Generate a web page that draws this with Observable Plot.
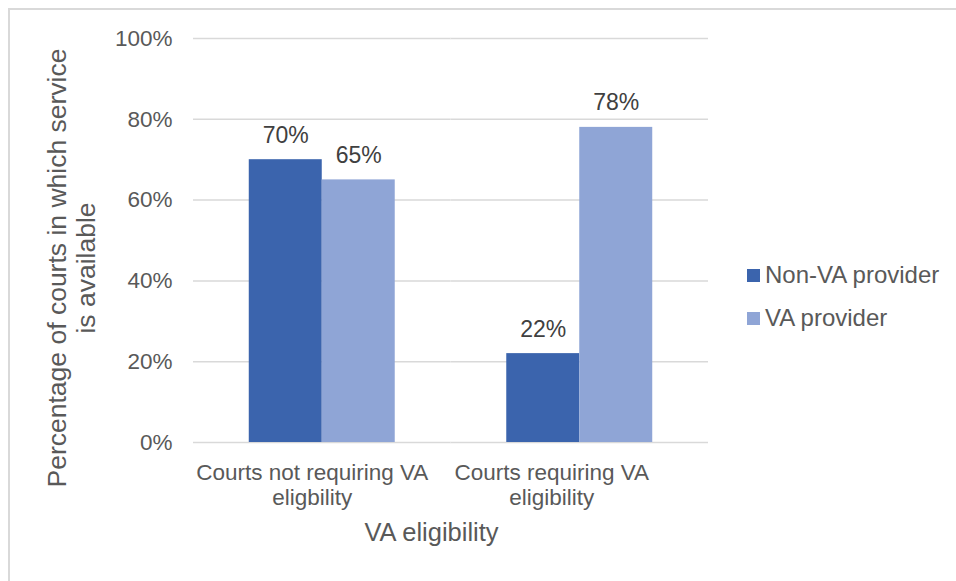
<!DOCTYPE html>
<html>
<head>
<meta charset="utf-8">
<script src="https://cdn.jsdelivr.net/npm/d3@7"></script>
<script src="https://cdn.jsdelivr.net/npm/@observablehq/plot@0.6"></script>
<style>
  html, body { margin: 0; padding: 0; background: #fff; }
  #wrap { position: relative; width: 956px; height: 581px; overflow: hidden; font-family: "Liberation Sans", Arial, sans-serif; color: #595959; }
  #frame { position: absolute; left: 8px; top: 8px; right: -10px; bottom: -10px; border-left: 2px solid #d9d9d9; border-top: 2px solid #d9d9d9; }
  #chart { position: absolute; left: 0; top: 0; }
  .ytitle { position: absolute; width: 520px; text-align: center; font-size: 26.5px; line-height: 29px; white-space: pre; transform-origin: center center; }
  .xtitle { position: absolute; width: 300px; text-align: center; font-size: 25.5px; line-height: 25px; }
  .leg { position: absolute; font-size: 24px; line-height: 24px; white-space: nowrap; }
  .sw { position: absolute; width: 13px; height: 13px; }
</style>
</head>
<body>
<div id="wrap">
  <div id="frame"></div>
  <div id="chart"></div>
</div>
<script>
const categories = ["Courts not requiring VA eligbility", "Courts requiring VA eligibility"];
const categoryLabels = ["Courts not requiring VA\neligbility", "Courts requiring VA\neligibility"];
const series = ["Non-VA provider", "VA provider"];
const nonVAValues = [0.70, 0.22];
const vaValues = [0.65, 0.78];
const yTicks = [0, 0.2, 0.4, 0.6, 0.8, 1.0];
const seriesColors = ["#3B64AD", "#8FA5D6"];
const xTitle = "VA eligibility";
const yTitle = "Percentage of courts in which service\nis available";

const data = [];
categories.forEach((c, i) => {
  data.push({category: c, series: series[0], value: nonVAValues[i]});
  data.push({category: c, series: series[1], value: vaValues[i]});
});
const labelOf = Object.fromEntries(categories.map((c, i) => [c, categoryLabels[i]]));
const pct = d => Math.round(d * 100) + "%";
const fxLabelShift = [-10, -28];

const chart = Plot.plot({
  width: 956,
  height: 581,
  marginLeft: 193,
  marginRight: 248,
  marginTop: 38,
  marginBottom: 139,
  style: {fontFamily: "'Liberation Sans', Arial, sans-serif", color: "#595959", background: "transparent", overflow: "visible"},
  fx: {domain: categories, padding: 0, round: false, axis: null},
  x: {domain: series, paddingInner: 0, paddingOuter: 0.764, round: false, axis: null},
  y: {domain: [0, 1]},
  color: {domain: series, range: seriesColors},
  marks: [
    Plot.gridY(yTicks, {stroke: "#d9d9d9", strokeOpacity: 1, strokeWidth: 1.5}),
    Plot.axisY(yTicks, {tickFormat: pct, tickSize: 0, tickPadding: 21, fontSize: 22.5, label: null, fill: "#595959"}),
    ...categories.map((c, i) => Plot.text([c], {fx: d => d, text: d => labelOf[d], frameAnchor: "bottom", lineAnchor: "top", dy: 20, dx: fxLabelShift[i], fontSize: 22.5, lineHeight: 1.1, fill: "#595959"})),
    Plot.barY(data, {fx: "category", x: "series", y: "value", fill: "series"}),
    Plot.text(data, {fx: "category", x: "series", y: "value", text: d => pct(d.value), lineAnchor: "bottom", dy: -17, fontSize: 23, fill: "#404040"})
  ]
});
document.getElementById("chart").appendChild(chart);

const wrap = document.getElementById("wrap");
// Y title
const yt = document.createElement("div");
yt.className = "ytitle";
yt.textContent = yTitle;
yt.style.left = (71.5 - 260) + "px";
yt.style.top = (268 - 29) + "px";
yt.style.transform = "rotate(-90deg)";
wrap.appendChild(yt);
// X title
const xt = document.createElement("div");
xt.className = "xtitle";
xt.textContent = xTitle;
xt.style.left = (431.5 - 150) + "px";
xt.style.top = "520px";
wrap.appendChild(xt);
// Legend
series.forEach((s, i) => {
  const sw = document.createElement("div");
  sw.className = "sw";
  sw.style.background = seriesColors[i];
  sw.style.left = "747px";
  sw.style.top = (269 + i * 43) + "px";
  wrap.appendChild(sw);
  const t = document.createElement("div");
  t.className = "leg";
  t.textContent = s;
  t.style.left = "765px";
  t.style.top = (263 + i * 43) + "px";
  wrap.appendChild(t);
});
</script>
</body>
</html>
